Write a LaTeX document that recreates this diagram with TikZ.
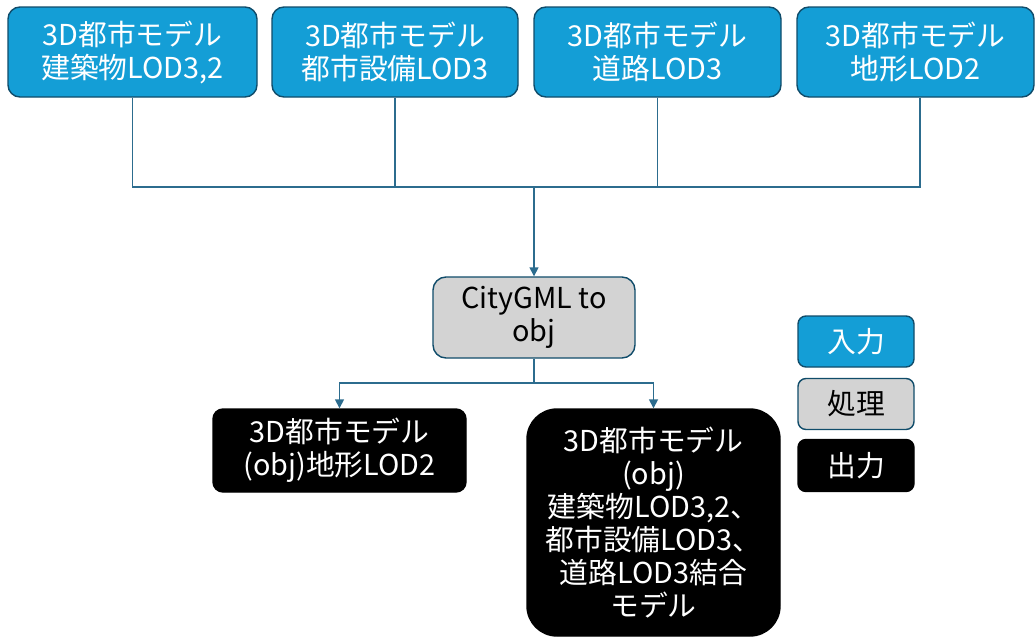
\documentclass[tikz,border=0pt]{standalone}
\usepackage{fontspec}
\setmainfont{Noto Sans CJK JP}
\usetikzlibrary{arrows.meta,calc}

\definecolor{inblue}{RGB}{20,158,214}
\definecolor{edgeblue}{RGB}{16,76,106}
\definecolor{linkblue}{RGB}{44,108,142}
\definecolor{procgray}{RGB}{211,211,211}

\tikzset{
  x=1pt, y=-1pt,
  box/.style={rectangle, align=center, inner sep=0pt,
    font=\fontsize{28.8}{33}\selectfont, line width=1.4pt},
  inbox/.style={box, fill=inblue, draw=edgeblue, text=white, rounded corners=12pt},
  procbox/.style={box, fill=procgray, draw=edgeblue, text=black, rounded corners=13pt},
  outbox/.style={box, fill=black, draw=black, text=white, rounded corners=10pt},
  conn/.style={draw=linkblue, line width=1.6pt},
  arrow/.style={conn, -{Triangle[width=9pt,length=9pt]}},
}

\begin{document}
\begin{tikzpicture}
\useasboundingbox (0,0) rectangle (1036,637);
\clip (0,0) rectangle (1036,637);

% input models
\node[inbox, minimum width=249pt, minimum height=90pt] (b1) at (132.5,52) {3D都市モデル\\建築物LOD3,2};
\node[inbox, minimum width=246pt, minimum height=90pt] (b2) at (395,52) {3D都市モデル\\都市設備LOD3};
\node[inbox, minimum width=247pt, minimum height=90pt] (b3) at (657.5,52) {3D都市モデル\\道路LOD3};
\node[inbox, minimum width=237pt, minimum height=90pt] (b4) at (915.5,52) {3D都市モデル\\地形LOD2};

% conversion step
\node[procbox, minimum width=202pt, minimum height=81pt] (proc) at (534,317.5) {CityGML to\\obj};

% outputs
\node[outbox, minimum width=253pt, minimum height=83pt] (out1) at (339.5,450.5) {3D都市モデル\\(obj)地形LOD2};
\node[outbox, rounded corners=30pt, minimum width=253pt, minimum height=227pt] (out2) at (653.5,522.5)
  {3D都市モデル\\(obj)\\建築物LOD3,2、\\都市設備LOD3、\\道路LOD3結合\\モデル};

% legend
\node[inbox, rounded corners=8pt, minimum width=116pt, minimum height=51pt] (lin) at (856,341.5) {入力};
\node[procbox, rounded corners=8pt, minimum width=116pt, minimum height=51pt] (lproc) at (856,404) {処理};
\node[outbox, rounded corners=8pt, minimum width=116pt, minimum height=52pt] (lout) at (856,465.5) {出力};

% merging bus
\coordinate (bus) at (534,187);
\coordinate (split) at (534,383);
\draw[conn] (b1.south) |- (bus);
\draw[conn] (b2.south) |- (bus);
\draw[conn] (b3.south) |- (bus);
\draw[conn] ([xshift=4.5pt]b4.south) |- (bus);
\draw[arrow] (bus) -- (proc.north);

% split to outputs
\draw[conn] (proc.south) -- (split);
\draw[arrow] (split) -| (out1.north);
\draw[arrow] (split) -| (out2.north);
\end{tikzpicture}
\end{document}
